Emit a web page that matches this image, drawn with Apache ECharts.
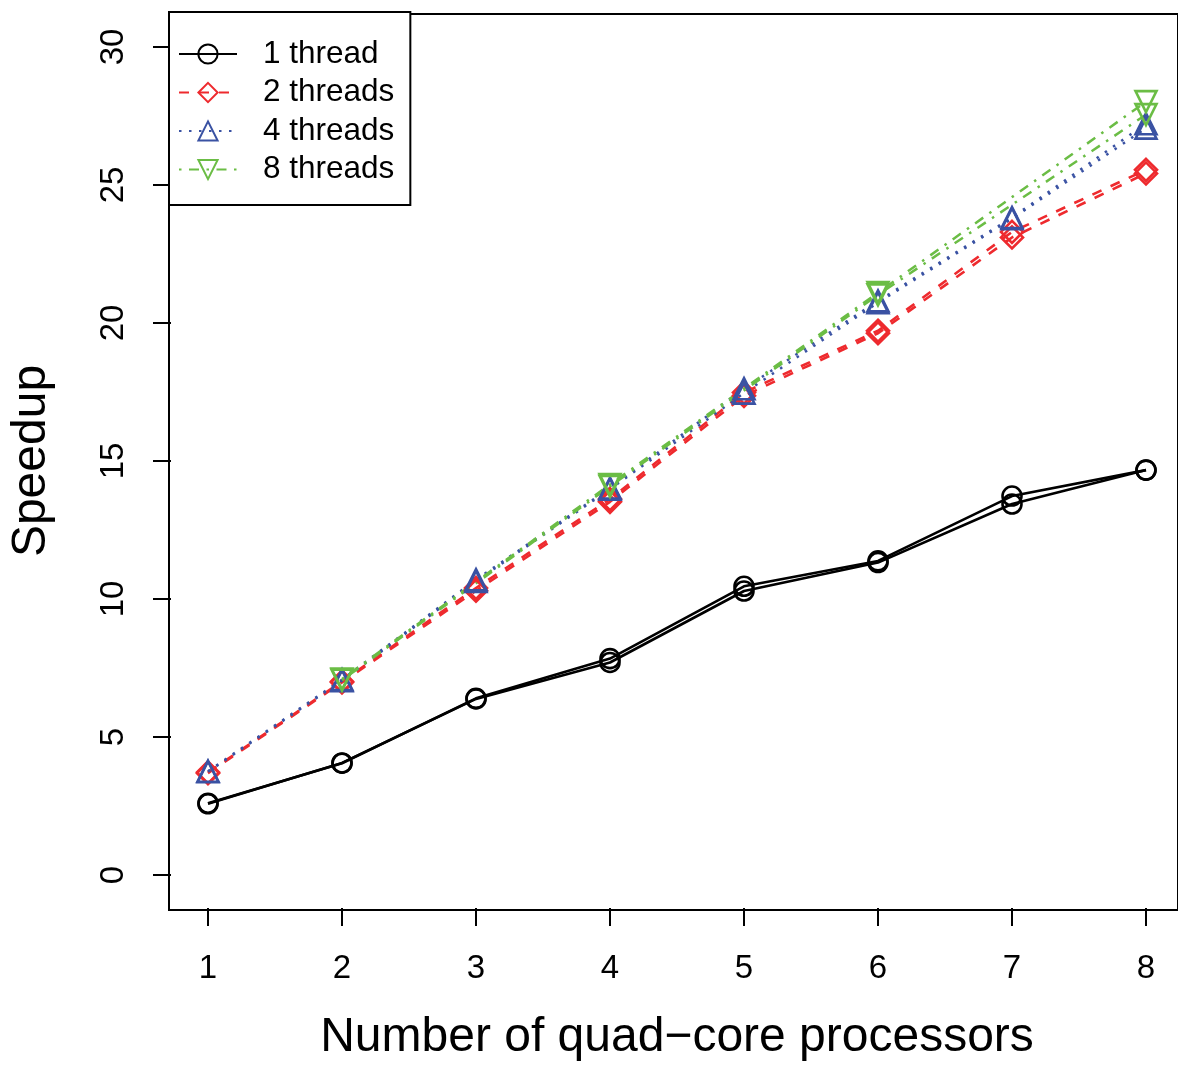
<!DOCTYPE html>
<html>
<head>
<meta charset="utf-8">
<script src="https://cdn.jsdelivr.net/npm/echarts@6/dist/echarts.min.js"></script>
<style>
html,body{margin:0;padding:0;background:#fff;}
#c{width:1178px;height:1067px;}
</style>
</head>
<body>
<div id="c"></div>
<script>
// ---- data ----
var processors = [1, 2, 3, 4, 5, 6, 7, 8];
var processors8 = [2, 4, 6, 8];
var yTicks = [0, 5, 10, 15, 20, 25, 30];

var thread1RunA = [2.60, 4.05, 6.40, 7.84, 10.46, 11.38, 13.73, 14.67];
var thread1RunB = [2.58, 4.06, 6.38, 7.70, 10.29, 11.32, 13.44, 14.67];
var threads2RunA = [3.72, 7.01, 10.40, 13.62, 17.48, 19.72, 23.30, 25.55];
var threads2RunB = [3.69, 6.98, 10.30, 13.52, 17.36, 19.63, 23.10, 25.42];
var threads4RunA = [3.76, 7.08, 10.70, 14.02, 17.62, 20.80, 23.82, 27.22];
var threads4RunB = [3.74, 7.04, 10.64, 13.98, 17.46, 20.74, 23.78, 27.06];
var threads8RunA = [7.10, 14.15, 21.10, 28.02];
var threads8RunB = [7.06, 14.08, 21.02, 27.55];

var FONT = 'Liberation Sans';
var RED = '#EE2A2E', BLUE = '#3A52A3', GREEN = '#6BBD45';

function pairs(xs, ys) { return xs.map(function (x, i) { return [x, ys[i]]; }); }

function mk(name, xs, ys, color, dash, symbol, size, rot, lw) {
  return {
    type: 'line', name: name, data: pairs(xs, ys),
    xAxisIndex: 0, yAxisIndex: 0,
    symbol: symbol, symbolSize: size, symbolRotate: rot || 0,
    showAllSymbol: true,
    color: color,
    lineStyle: { color: color, width: lw, type: dash, cap: 'butt' },
    itemStyle: { color: 'rgba(0,0,0,0)', borderColor: color, borderWidth: 2.6 },
    emphasis: { disabled: true },
    animation: false
  };
}

var series = [
  mk('1 thread', processors, thread1RunA, '#000', 'solid', 'circle', 19, 0, 2.6),
  mk('1 thread', processors, thread1RunB, '#000', 'solid', 'circle', 19, 0, 2.6),
  mk('2 threads', processors, threads2RunA, RED, [10, 10], 'diamond', 22, 0, 2.6),
  mk('2 threads', processors, threads2RunB, RED, [10, 10], 'diamond', 22, 0, 2.6),
  mk('4 threads', processors, threads4RunA, BLUE, [2.5, 7.5], 'triangle', 21, 0, 2.5),
  mk('4 threads', processors, threads4RunB, BLUE, [2.5, 7.5], 'triangle', 21, 0, 2.5),
  mk('8 threads', processors8, threads8RunA, GREEN, [2.5, 7.5, 10, 7.5], 'triangle', 21, 180, 2.5),
  mk('8 threads', processors8, threads8RunB, GREEN, [2.5, 7.5, 10, 7.5], 'triangle', 21, 180, 2.5)
];

var chart = echarts.init(document.getElementById('c'), null, { renderer: 'canvas' });
chart.setOption({
  backgroundColor: '#fff',
  animation: false,
  textStyle: { fontFamily: FONT, color: '#000' },
  grid: [
    { left: 206, right: 32, top: 47, bottom: 190, show: false },
    { left: 169, right: -6, top: 14, bottom: 157, show: true, borderColor: '#000', borderWidth: 2, backgroundColor: 'rgba(0,0,0,0)', z: 1 }
  ],
  xAxis: [
    {
      type: 'value', gridIndex: 0, min: 1, max: 8, interval: 1, offset: 33,
      axisLine: { show: false, onZero: false, lineStyle: { color: '#000', width: 2 } },
      axisTick: { show: true, inside: false, length: 18, lineStyle: { color: '#000', width: 2 } },
      axisLabel: { show: true, margin: 44, fontSize: 33, fontFamily: FONT, color: '#000',
        formatter: function (v) { return processors.indexOf(v) >= 0 ? String(v) : ''; } },
      splitLine: { show: false },
      name: 'Number of quad\u2212core processors', nameLocation: 'middle', nameGap: 106,
      nameTextStyle: { fontSize: 48, fontFamily: FONT, color: '#000' }
    },
    { type: 'value', gridIndex: 1, show: false, min: 0, max: 1 }
  ],
  yAxis: [
    {
      type: 'value', gridIndex: 0, min: 0, max: 30, interval: 5, offset: 37,
      axisLine: { show: false, onZero: false, lineStyle: { color: '#000', width: 2 } },
      axisTick: { show: true, inside: false, length: 18, lineStyle: { color: '#000', width: 2 } },
      axisLabel: { show: true, margin: 41, rotate: 90, fontSize: 33, fontFamily: FONT, color: '#000',
        formatter: function (v) { return yTicks.indexOf(v) >= 0 ? String(v) : ''; } },
      splitLine: { show: false },
      name: 'Speedup', nameLocation: 'middle', nameGap: 115, nameRotate: 90,
      nameTextStyle: { fontSize: 48, fontFamily: FONT, color: '#000' }
    },
    { type: 'value', gridIndex: 1, show: false, min: 0, max: 1 }
  ],
  legend: {
    show: true, orient: 'vertical', left: 169, top: 12,
    padding: [26, 16, 19.5, 9],
    itemWidth: 58, itemHeight: 24, itemGap: 6.5,
    backgroundColor: '#fff', borderColor: '#000', borderWidth: 2, borderRadius: 0,
    selectedMode: false, z: 10,
    textStyle: { fontSize: 31.5, fontFamily: FONT, color: '#000', padding: [0, 0, 0, 21] },
    data: ['1 thread', '2 threads', '4 threads', '8 threads']
  },
  series: series
});
</script>
</body>
</html>
